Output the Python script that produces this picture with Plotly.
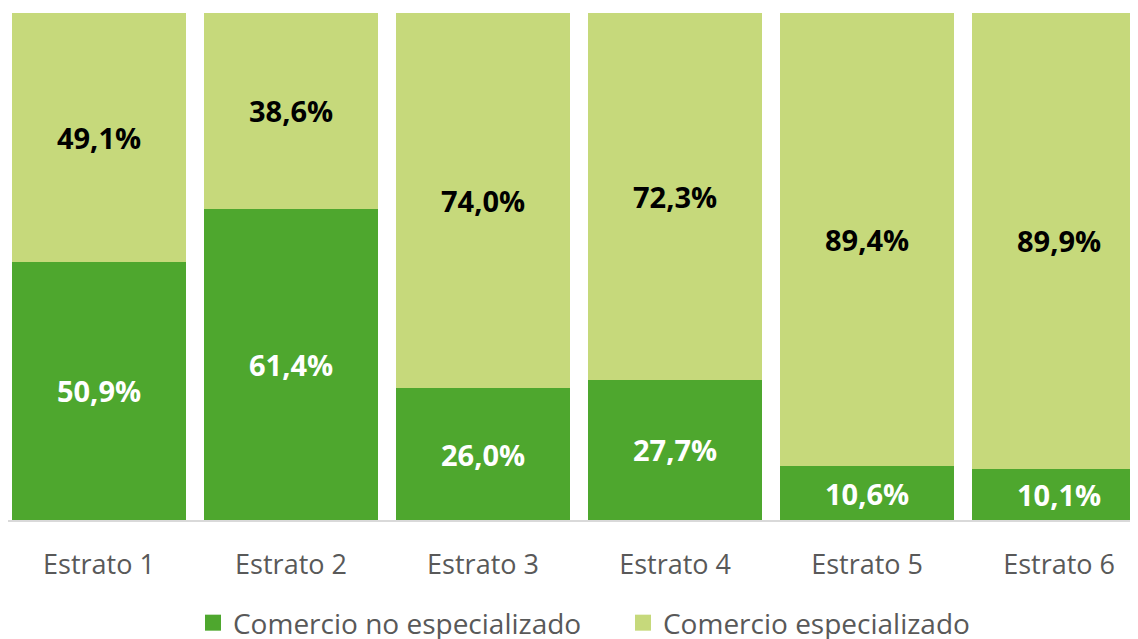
import plotly.graph_objects as go

categories = ["Estrato 1", "Estrato 2", "Estrato 3", "Estrato 4", "Estrato 5", "Estrato 6"]
no_especializado = [50.9, 61.4, 26.0, 27.7, 10.6, 10.1]
especializado = [49.1, 38.6, 74.0, 72.3, 89.4, 89.9]
series_names = ["Comercio no especializado", "Comercio especializado"]

DARK = "#4EA72E"
LIGHT = "#C6D97B"
FONT = "Open Sans"

fig = go.Figure()
fig.add_trace(go.Bar(
    x=categories, y=no_especializado, name=series_names[0],
    marker=dict(color=DARK, line=dict(width=0)),
    texttemplate="%{y:.1f}%", textposition="inside", insidetextanchor="middle",
    textfont=dict(family=FONT, size=29, color="white", weight="bold"),
    showlegend=False, hoverinfo="skip",
))
fig.add_trace(go.Bar(
    x=categories, y=especializado, name=series_names[1],
    marker=dict(color=LIGHT, line=dict(width=0)),
    texttemplate="%{y:.1f}%", textposition="inside", insidetextanchor="middle",
    textfont=dict(family=FONT, size=29, color="black", weight="bold"),
    showlegend=False, hoverinfo="skip",
))
# legend entries
for nm, col in zip(series_names, [DARK, LIGHT]):
    fig.add_trace(go.Scatter(
        x=[None], y=[None], mode="markers", name=nm,
        marker=dict(symbol="square", size=17, color=col),
    ))

fig.update_layout(
    width=1130, height=631,
    barmode="stack", bargap=0.094,
    separators=",.",
    plot_bgcolor="white", paper_bgcolor="white",
    margin=dict(l=0, r=0, t=5, b=119, autoexpand=False),
    font=dict(family=FONT, color="#595959"),
    legend=dict(
        orientation="h", traceorder="normal",
        x=0.1637, xanchor="left", yref="container", y=0.0254, yanchor="middle",
        font=dict(family=FONT, size=28, color="#595959"),
        entrywidth=385, entrywidthmode="pixels",
    ),
    xaxis=dict(
        type="category", range=[-0.474, 5.411],
        showline=True, linecolor="#D9D9D9", linewidth=2,
        showgrid=False, ticks="outside", ticklen=20, tickcolor="rgba(0,0,0,0)",
        tickfont=dict(family=FONT, size=27, color="#595959"),
        fixedrange=True,
    ),
    yaxis=dict(range=[0, 100], visible=False, showgrid=False, fixedrange=True),
)

fig.write_html("out.html")
